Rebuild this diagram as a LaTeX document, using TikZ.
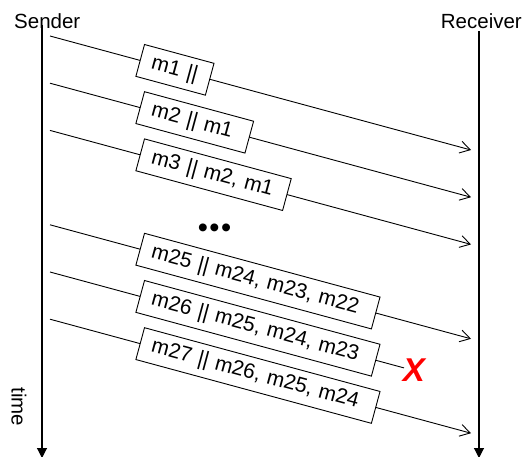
\documentclass[tikz,border=0pt]{standalone}
\usepackage{fontspec}
\setmainfont{Liberation Sans}
\usetikzlibrary{arrows.meta,calc}
\begin{document}
\begin{tikzpicture}[x=1pt,y=-1pt,
  lifeline/.style={line width=1.1pt,-{Triangle[length=10pt,width=10pt]}},
  msgline/.style={line width=0.9pt,-{Straight Barb[length=10pt,width=12pt]}},
  lostline/.style={line width=0.9pt},
  msgbox/.style={draw,line width=0.9pt,fill=white,rotate=-15.15,anchor=west,
    minimum height=33pt,inner ysep=0pt,inner xsep=12pt,align=left,
    font=\fontsize{21}{24}\selectfont},
  lbl/.style={font=\fontsize{20.5}{24}\selectfont,inner sep=0pt}]
\useasboundingbox (0,0) rectangle (531,456);
% labels
\node[lbl,anchor=base west] (snd) at (14,28) {Sender};
\node[lbl,anchor=base east] (rcv) at (522,28) {Receiver};
\node[lbl,rotate=-90] (time) at (19,407) {time};
% lifelines
\coordinate (stop) at (42,25);
\coordinate (sbot) at (42,458);
\coordinate (rtop) at (479,31);
\coordinate (rbot) at (479,458);
\draw[lifeline] (stop) -- (sbot);
\draw[lifeline] (rtop) -- (rbot);
% message end points
\coordinate (s1) at (50,36);    \coordinate (e1) at (471,150);
\coordinate (s2) at (50,83.2);  \coordinate (e2) at (471,197.2);
\coordinate (s3) at (50,130.4); \coordinate (e3) at (471,244.4);
\coordinate (s4) at (50,224.8); \coordinate (e4) at (471,338.8);
\coordinate (s5) at (50,272);   \coordinate (e5) at (404,367.9);
\coordinate (s6) at (50,319.2); \coordinate (e6) at (471,433.2);
\draw[msgline] (s1) -- (e1);
\draw[msgline] (s2) -- (e2);
\draw[msgline] (s3) -- (e3);
\draw[msgline] (s4) -- (e4);
\draw[lostline] (s5) -- (e5);
\draw[msgline] (s6) -- (e6);
% message boxes
\node[msgbox,text width=48pt]  (b1) at ($(s1)!93pt!(e1)$) {m1 ||};
\node[msgbox,text width=89pt]  (b2) at ($(s2)!93pt!(e2)$) {m2 || m1};
\node[msgbox,text width=128pt] (b3) at ($(s3)!93pt!(e3)$) {m3 || m2, m1};
\node[msgbox,text width=220pt] (b4) at ($(s4)!93pt!(e4)$) {m25 || m24, m23, m22};
\node[msgbox,text width=220pt] (b5) at ($(s5)!93pt!(e5)$) {m26 || m25, m24, m23};
\node[msgbox,text width=220pt] (b6) at ($(s6)!93pt!(e6)$) {m27 || m26, m25, m24};
% dots and loss mark
\node[inner sep=0pt,font=\fontsize{29}{29}\selectfont] (dots) at (214.5,230.5) {•\hspace{1.5pt}•\hspace{1.5pt}•};
\node[inner sep=0pt,text=red,font=\fontsize{33}{33}\selectfont\bfseries\itshape] (lost) at (414,370) {X};
\end{tikzpicture}
\end{document}
